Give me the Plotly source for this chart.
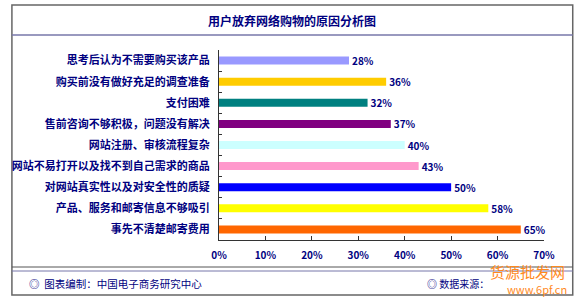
import plotly.graph_objects as go

categories = [
    "思考后认为不需要购买该产品",
    "购买前没有做好充足的调查准备",
    "支付困难",
    "售前咨询不够积极，问题没有解决",
    "网站注册、审核流程复杂",
    "网站不易打开以及找不到自己需求的商品",
    "对网站真实性以及对安全性的质疑",
    "产品、服务和邮寄信息不够吸引",
    "事先不清楚邮寄费用",
]
values = [28, 36, 32, 37, 40, 43, 50, 58, 65]
bar_colors = ["#9999FF", "#FFCC00", "#008080", "#800080", "#CCFFFF",
              "#FF99CC", "#0000FF", "#FFFF00", "#FF6600"]
tick_vals = [0, 10, 20, 30, 40, 50, 60, 70]
tick_text = ["0%", "10%", "20%", "30%", "40%", "50%", "60%", "70%"]

W, H = 585, 304
L, R, T, B = 216, 544, 50, 240
NAVY = "#000080"
FONT = "Noto Sans CJK SC"

def px(x):
    return (x - L) / (R - L)

def py(y):
    return (B - y) / (B - T)

fig = go.Figure()
fig.add_trace(go.Bar(
    x=values, y=categories, orientation="h",
    marker=dict(color=bar_colors, line=dict(width=0)),
    width=0.38,
    text=[f"{v}%" for v in values],
    textposition="outside",
    constraintext="none",
    textfont=dict(family=FONT, size=10, color=NAVY, weight="bold"),
    cliponaxis=False,
    hoverinfo="skip",
))

fig.update_layout(
    width=W, height=H,
    margin=dict(l=L, r=W - R, t=T, b=H - B),
    paper_bgcolor="white", plot_bgcolor="white",
    showlegend=False,
    uniformtext=dict(minsize=10, mode="show"),
    xaxis=dict(range=[0, 70], tickvals=tick_vals, ticktext=tick_text,
               showgrid=False, zeroline=False, showline=True,
               linecolor="#333333", linewidth=1,
               ticks="inside", ticklen=4, tickcolor="#333333",
               ticklabelstandoff=6,
               tickfont=dict(family=FONT, size=10, color=NAVY, weight="bold")),
    yaxis=dict(categoryorder="array", categoryarray=categories,
               autorange="reversed", showgrid=False, zeroline=False,
               showline=True, linecolor="#333333", linewidth=1,
               ticks="inside", ticklen=3, tickcolor="#333333",
               tickson="boundaries", ticklabelstandoff=6,
               tickfont=dict(family=FONT, size=11, color=NAVY, weight="bold")),
)

shapes = []
shapes.append(dict(type="rect", xref="paper", yref="paper",
                   x0=px(7), x1=px(573), y0=py(5), y1=py(295),
                   line=dict(color="#666666", width=1.5), layer="below"))
shapes.append(dict(type="line", xref="paper", yref="paper",
                   x0=px(7), x1=px(573), y0=py(35), y1=py(35),
                   line=dict(color="#7777AA", width=1.5)))
shapes.append(dict(type="line", xref="paper", yref="paper",
                   x0=px(7), x1=px(573), y0=py(267), y1=py(267),
                   line=dict(color="#555555", width=1)))
shapes.append(dict(type="line", xref="paper", yref="paper",
                   x0=px(7), x1=px(573), y0=py(271), y1=py(271),
                   line=dict(color="#7777AA", width=1)))
fig.update_layout(shapes=shapes)

ann = []
ann.append(dict(text="<b>用户放弃网络购物的原因分析图</b>", xref="paper", yref="paper",
                x=px(290), y=py(21), xanchor="center", yanchor="middle",
                showarrow=False, font=dict(family=FONT, size=12, color=NAVY)))
ann.append(dict(text="◎  图表编制：中国电子商务研究中心", xref="paper", yref="paper",
                x=px(22), y=py(283), xanchor="left", yanchor="middle",
                showarrow=False, font=dict(family=FONT, size=10.5, color=NAVY)))
ann.append(dict(text="◎ 数据来源：", xref="paper", yref="paper",
                x=px(424), y=py(283), xanchor="left", yanchor="middle",
                showarrow=False, font=dict(family=FONT, size=10, color=NAVY)))
# watermark
ann.append(dict(text="货源批发网", xref="paper", yref="paper",
                x=px(527), y=py(271), xanchor="center", yanchor="middle",
                showarrow=False, font=dict(family=FONT, size=15, color="#FF8A1E")))
ann.append(dict(text="www.6pf.cn", xref="paper", yref="paper",
                x=px(569), y=py(289), xanchor="right", yanchor="middle",
                showarrow=False, font=dict(family=FONT, size=11, color="#FF8A1E")))
fig.update_layout(annotations=ann)

fig.write_html("out.html")
